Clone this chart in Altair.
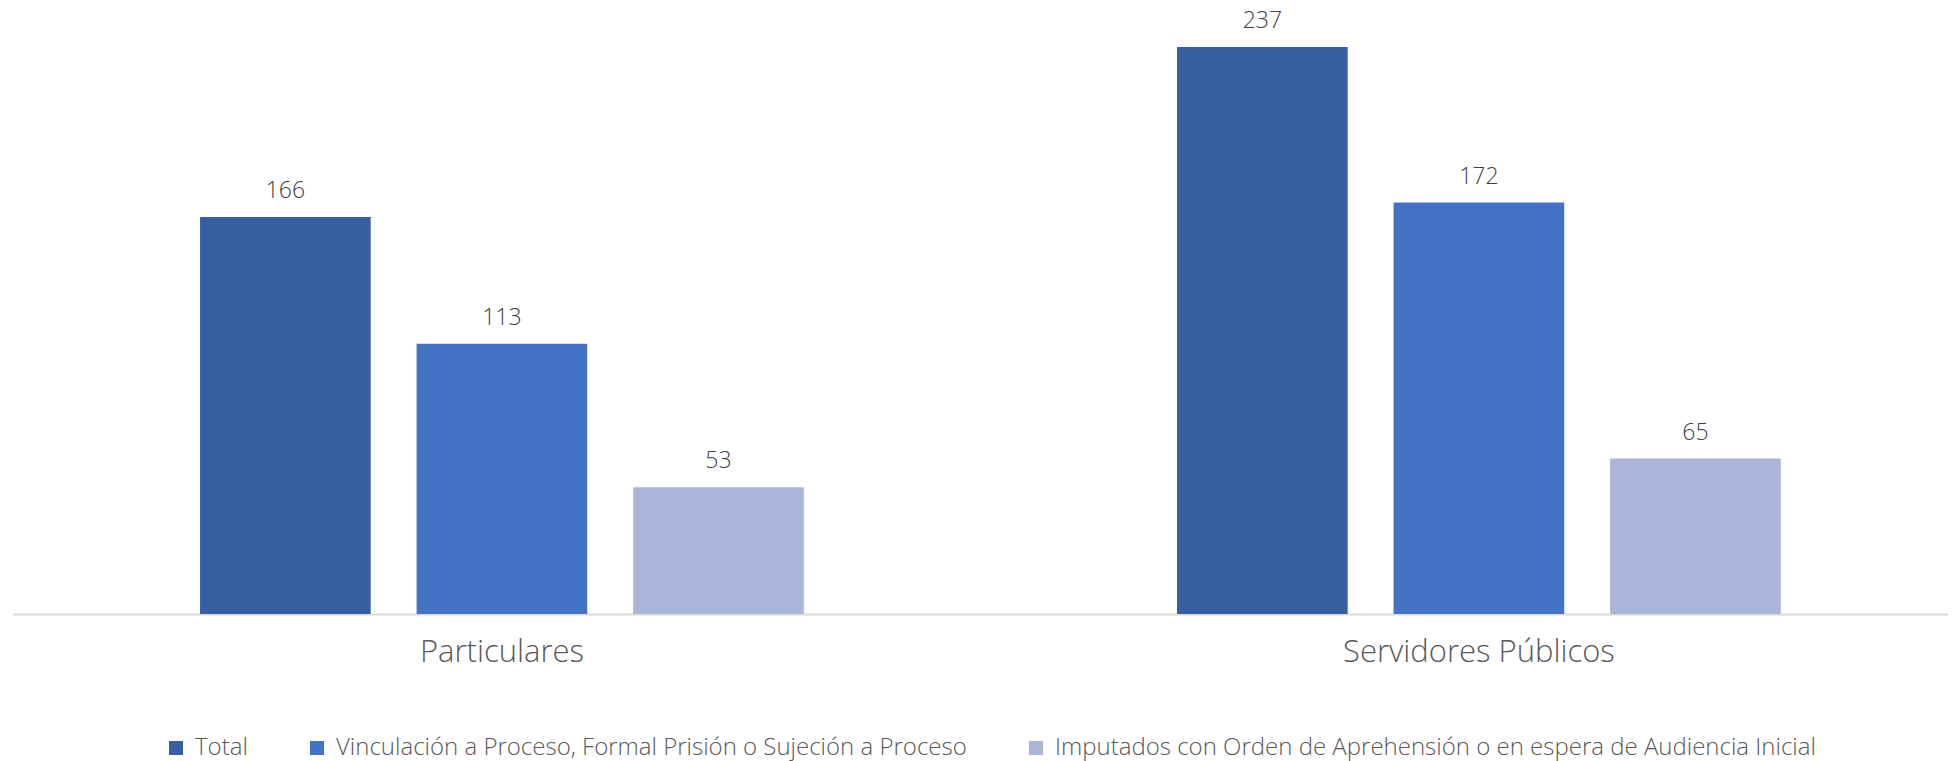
import altair as alt
import pandas as pd

groups = ["Particulares", "Servidores Públicos"]
series = [
    "Total",
    "Vinculación a Proceso, Formal Prisión o Sujeción a Proceso",
    "Imputados con Orden de Aprehensión o en espera de Audiencia Inicial",
]
particulares = [166, 113, 53]
servidores = [237, 172, 65]
colors = ["#365EA1", "#4472C4", "#A9B5D9"]

rows = []
for s, v in zip(series, particulares):
    rows.append({"grupo": groups[0], "serie": s, "valor": v})
for s, v in zip(series, servidores):
    rows.append({"grupo": groups[1], "serie": s, "valor": v})
df = pd.DataFrame(rows)

FONT = "Open Sans"

x_enc = alt.X(
    "grupo:N",
    sort=groups,
    title=None,
    scale=alt.Scale(paddingInner=0.382, paddingOuter=0.1813, align=0.528),
    axis=alt.Axis(
        labelAngle=0,
        labelFontSize=31,
        labelFont=FONT,
        labelFontWeight=300,
        labelColor="#595959",
        labelPadding=23,
        labelLimit=0,
        ticks=False,
        domainColor="#D9D9D9",
        domainWidth=2,
        grid=False,
    ),
)
xoff_enc = alt.XOffset(
    "serie:N", sort=series, scale=alt.Scale(paddingInner=0.212, paddingOuter=0)
)
y_enc = alt.Y("valor:Q", scale=alt.Scale(domain=[0, 250], nice=False), axis=None)

bars = alt.Chart(df).mark_bar().encode(
    x=x_enc,
    xOffset=xoff_enc,
    y=y_enc,
    color=alt.Color(
        "serie:N",
        sort=series,
        scale=alt.Scale(domain=series, range=colors),
        legend=alt.Legend(
            title=None,
            orient="none",
            direction="horizontal",
            columns=3,
            legendX=151,
            legendY=720,
            symbolType="square",
            symbolSize=196,
            symbolStrokeWidth=0,
            labelFontSize=24,
            labelFont=FONT,
            labelFontWeight=300,
            labelColor="#595959",
            labelOffset=7,
            columnPadding=57,
            labelLimit=0,
        ),
    ),
)

labels = alt.Chart(df).mark_text(
    baseline="alphabetic", dy=-19, fontSize=23, font=FONT, fontWeight=300,
    color="#404040"
).encode(
    x=alt.X("grupo:N", sort=groups),
    xOffset=alt.XOffset("serie:N", sort=series),
    y=alt.Y("valor:Q"),
    text=alt.Text("valor:Q"),
)

chart = (
    alt.layer(bars, labels)
    .properties(
        width=1935,
        height=598,
        background="white",
        autosize=alt.AutoSizeParams(type="none"),
        padding={"left": 5, "top": 8, "right": 0, "bottom": 147},
    )
    .configure_view(stroke=None, strokeWidth=0)
)

chart.save("out.html", embed_options={"renderer": "svg", "actions": False})
